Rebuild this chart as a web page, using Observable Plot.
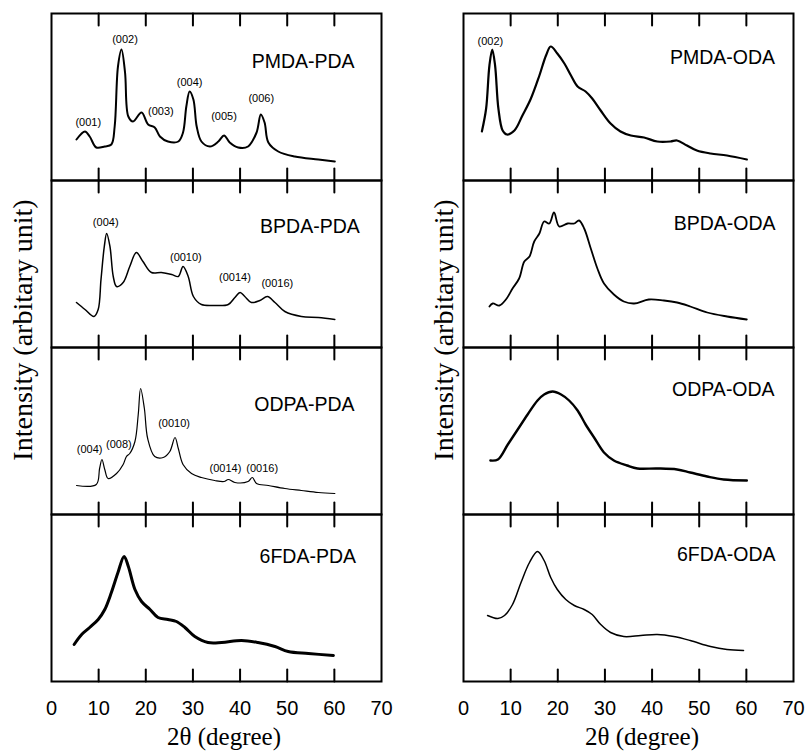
<!DOCTYPE html>
<html><head><meta charset="utf-8">
<script src="https://cdn.jsdelivr.net/npm/d3@7"></script>
<script src="https://cdn.jsdelivr.net/npm/@observablehq/plot@0.6"></script>
<style>
body{margin:0;background:#fff}
#wrap{position:relative;width:806px;height:752px}
#chart svg{display:block}
.ttl{position:absolute;white-space:nowrap;font-family:"Liberation Serif","Times New Roman",serif;color:#000}
.xt{font-size:25px;line-height:25px;top:724px;transform:translateX(-50%)}
.yt{font-size:28px;line-height:28px;top:330px;transform:translate(-50%,-50%) rotate(-90deg)}
</style>
</head><body><div id="wrap"><div id="chart"></div></div>
<script>
// ---------- data ----------
const xTicks = [0, 10, 20, 30, 40, 50, 60, 70];
const innerTicks = [10, 20, 30, 40, 50, 60];
const columns = ["PDA", "ODA"];
const rows = [1, 2, 3, 4];
const panelNames = ["PMDA-PDA", "BPDA-PDA", "ODPA-PDA", "6FDA-PDA", "PMDA-ODA", "BPDA-ODA", "ODPA-ODA", "6FDA-ODA"];
const panelCol = ["PDA", "PDA", "PDA", "PDA", "ODA", "ODA", "ODA", "ODA"];
const panelRow = [1, 2, 3, 4, 1, 2, 3, 4];
const labelX = [64.3, 65.4, 64.3, 64.6, 66.1, 66.2, 66.0, 66.2];
const labelY = [113, 115, 104, 119, 117, 118, 119, 121];
const xTitle = "2θ (degree)";
const yTitle = "Intensity (arbitary unit)";

// 2θ (degree), intensity (arbitrary units)
const pmdaPda = [[5.3,41],[7.1,49],[8.1,44],[9.5,33],[11.3,34],[12.7,36],[13.4,54],[14.1,114],[14.85,131],[15.6,108],[16.3,64],[17.3,59],[19.1,68],[20.5,56],[21.9,53],[23.0,44],[24.7,39],[26.9,39],[27.9,48],[28.6,74],[29.3,89],[30.1,81],[30.8,54],[31.8,39],[33.6,34],[35.4,39],[36.6,45],[37.8,38],[39.6,33],[41.7,34],[43.5,48],[44.4,66],[45.2,58],[46.0,38],[48.1,29],[51.6,24],[56.6,21],[60.1,19]];
const bpdaPda = [[5.3,45],[7.1,38],[9.0,31],[9.9,38],[10.5,68],[11.2,101],[11.7,114],[12.4,101],[13.1,71],[13.8,61],[15.2,65],[16.6,81],[18.0,95],[19.4,86],[21.2,75],[23.3,75],[25.5,73],[26.9,71],[27.9,81],[29.0,71],[30.1,51],[31.8,43],[34.6,42],[37.5,43],[38.9,50],[40.0,55],[41.0,51],[42.4,45],[44.2,47],[45.8,51],[47.4,45],[49.5,36],[53.0,31],[56.6,30],[60.1,28]];
const odpaPda = [[5.3,29],[9.5,30],[10.2,46],[10.7,55],[11.3,45],[12.0,36],[13.8,41],[15.2,50],[15.9,58],[16.6,61],[17.7,73],[18.4,100],[18.9,126],[19.7,106],[20.4,76],[21.9,58],[23.7,57],[25.1,63],[26.2,77],[26.9,66],[27.9,50],[29.7,41],[31.8,37],[34.6,34],[36.6,33],[37.5,35],[38.9,32],[41.7,33],[42.6,37],[43.5,31],[46.0,29],[49.5,26],[53.0,24],[56.6,22],[60.1,21]];
const f6Pda = [[4.8,37],[6.4,47],[8.1,54],[9.9,62],[11.3,72],[12.7,89],[14.1,109],[15.4,125],[16.3,115],[17.7,92],[19.1,80],[20.9,72],[22.6,64],[24.7,62],[26.5,60],[28.3,54],[30.4,45],[33.2,39],[36.1,39],[40.3,41],[43.8,39],[47.4,35],[50.2,30],[54.5,28],[59.8,26]];
const pmdaOda = [[3.9,49],[4.8,72],[5.5,115],[6.1,131],[6.7,115],[7.4,72],[8.3,50],[9.2,46],[10.8,50],[12.5,65],[14.3,82],[16.1,105],[17.5,125],[18.5,134],[19.9,127],[21.4,117],[22.8,105],[24.2,94],[25.9,89],[27.3,82],[29.1,70],[31.2,57],[33.3,49],[35.5,45],[38.3,43],[41.1,39],[43.9,39],[45.3,40],[47.4,35],[49.5,30],[52.4,27],[55.9,25],[60.1,21]];
const bpdaOda = [[5.5,41],[6.2,44],[7.6,42],[9.0,48],[10.4,59],[11.8,69],[12.9,86],[14.0,91],[15.0,106],[16.1,114],[17.1,126],[18.2,124],[19.2,135],[20.3,121],[22.1,124],[23.5,124],[24.5,127],[25.6,119],[27.0,99],[28.4,79],[29.8,64],[31.9,53],[34.0,46],[36.2,44],[39.3,48],[42.5,47],[45.3,45],[48.1,41],[51.7,35],[55.9,31],[60.1,28]];
const odpaOda = [[5.7,54],[7.3,55],[9.4,70],[11.5,85],[13.6,100],[15.7,114],[17.1,120],[18.9,123],[20.7,120],[22.4,114],[24.2,104],[25.9,90],[27.7,77],[29.8,62],[31.9,54],[34.7,49],[36.9,46],[41.1,46],[45.3,45],[48.1,42],[51.7,38],[55.2,35],[60.1,34]];
const f6Oda = [[5.1,66],[7.3,63],[8.7,66],[10.4,77],[12.2,99],[14.0,119],[15.7,130],[17.1,121],[18.5,104],[19.9,92],[21.7,82],[23.5,76],[25.6,72],[27.3,67],[29.1,57],[31.2,49],[34.0,45],[37.6,46],[41.1,47],[44.6,45],[48.1,41],[52.4,35],[55.9,32],[59.4,31]];

// Miller-index annotations
const peakPanel = ["PMDA-PDA","PMDA-PDA","PMDA-PDA","PMDA-PDA","PMDA-PDA","PMDA-PDA","BPDA-PDA","BPDA-PDA","BPDA-PDA","BPDA-PDA","ODPA-PDA","ODPA-PDA","ODPA-PDA","ODPA-PDA","ODPA-PDA","PMDA-ODA"];
const peakText = ["(001)","(002)","(003)","(004)","(005)","(006)","(004)","(0010)","(0014)","(0016)","(004)","(008)","(0010)","(0014)","(0016)","(002)"];
const peakX = [7.8,15.6,23.2,29.3,36.6,44.5,11.5,28.5,38.9,47.9,8.1,14.3,26.0,36.9,44.7,5.7];
const peakY = [58,141,69,98,64,82,125,90,70,64,65,70,91,46,46,139];

// ---------- styles ----------
const lineWidth = {"PMDA-PDA":2,"BPDA-PDA":1.5,"ODPA-PDA":1.2,"6FDA-PDA":3,"PMDA-ODA":2.2,"BPDA-ODA":1.8,"ODPA-ODA":2.4,"6FDA-ODA":1.5};

// ---------- build ----------
const seriesByName = {"PMDA-PDA":pmdaPda,"BPDA-PDA":bpdaPda,"ODPA-PDA":odpaPda,"6FDA-PDA":f6Pda,"PMDA-ODA":pmdaOda,"BPDA-ODA":bpdaOda,"ODPA-ODA":odpaOda,"6FDA-ODA":f6Oda};
const panelInfo = panelNames.map((name, i) => ({name, col: panelCol[i], row: panelRow[i], lx: labelX[i], ly: labelY[i]}));
const infoByName = Object.fromEntries(panelInfo.map(d => [d.name, d]));
const points = panelInfo.flatMap(p => seriesByName[p.name].map(([x, y]) => ({name: p.name, col: p.col, row: p.row, x, y})));
const peaks = peakText.map((t, i) => ({t, x: peakX[i], y: peakY[i], col: infoByName[peakPanel[i]].col, row: infoByName[peakPanel[i]].row}));

const yTop = 167, tickLen = 12;
// tick segments as two-point lines (bottom and top edge of every panel)
const tickPts = [];
let tid = 0;
for (const c of columns) for (const r of rows) for (const t of innerTicks) {
  for (const [a, b] of [[0, tickLen], [yTop - tickLen, yTop]]) {
    tid++;
    tickPts.push({col: c, row: r, t, v: a, id: tid});
    tickPts.push({col: c, row: r, t, v: b, id: tid});
  }
}
const sans = "Liberation Sans, Arial, Helvetica, sans-serif";

const chart = Plot.plot({
  width: 806, height: 752,
  marginLeft: 50, marginRight: 13, marginTop: 13, marginBottom: 71,
  x: {domain: [0, 70]},
  y: {domain: [0, yTop], axis: null},
  fx: {domain: columns, paddingInner: 0.2, axis: null},
  fy: {domain: rows, paddingInner: 0, axis: null},
  style: {fontFamily: sans, background: "white", color: "black"},
  marks: [
    ...panelNames.map(name => Plot.line(points.filter(d => d.name === name), {
      x: "x", y: "y", fx: "col", fy: "row", stroke: "black",
      strokeWidth: lineWidth[name], curve: "catmull-rom", strokeLinejoin: "round"
    })),
    Plot.line(tickPts, {x: "t", y: "v", z: "id", fx: "col", fy: "row", stroke: "black", strokeWidth: 2}),
    Plot.frame({stroke: "black", strokeWidth: 2}),
    Plot.axisX({anchor: "bottom", ticks: xTicks, tickSize: 0, tickPadding: 19, fontSize: 20, label: null, tickFormat: d => String(d)}),
    Plot.text(panelInfo, {x: "lx", y: "ly", fx: "col", fy: "row", text: "name", textAnchor: "end", lineAnchor: "bottom", fontSize: 19.5, fontFamily: sans, fill: "black"}),
    Plot.text(peaks, {x: "x", y: "y", fx: "col", fy: "row", text: "t", textAnchor: "middle", lineAnchor: "middle", fontSize: 11, fontFamily: sans, fill: "black"})
  ]
});
const wrap = document.getElementById("wrap");
document.getElementById("chart").appendChild(chart);

// axis titles, one per column
function addTitle(cls, left, text) {
  const d = document.createElement("div");
  d.className = "ttl " + cls;
  d.style.left = left + "px";
  d.textContent = text;
  wrap.appendChild(d);
}
addTitle("xt", 224, xTitle);
addTitle("xt", 642, xTitle);
addTitle("yt", 23, yTitle);
addTitle("yt", 444, yTitle);
</script>
</body></html>
